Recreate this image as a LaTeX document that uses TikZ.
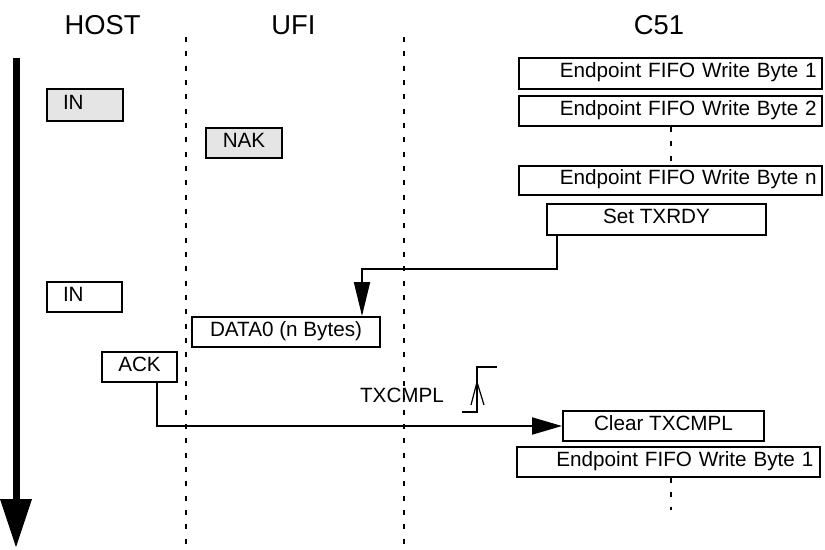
\documentclass[tikz,border=0pt]{standalone}
\usepackage{fontspec}
\setmainfont{Liberation Sans}
\usetikzlibrary{arrows.meta,calc}
\definecolor{boxgray}{RGB}{229,229,229}
\tikzset{
  lbl/.style={font=\fontsize{15.5}{18}\selectfont},
  hdr/.style={font=\fontsize{20.5}{24}\selectfont, anchor=base, inner sep=0},
  box/.style={draw, line width=1.5pt, inner ysep=0, minimum height=#1*0.75pt,
     text height=11pt, text depth=4.5pt, font=\fontsize{15.5}{18}\selectfont},
  grayfill/.style={fill=boxgray},
  lifeline/.style={line width=1.5pt, dash pattern=on 3.75pt off 7pt},
  conn/.style={line width=1.5pt},
}
\begin{document}
\begin{tikzpicture}[x=0.75pt, y=-0.75pt]
\useasboundingbox (0,0) rectangle (825,550);
% headers
\node[hdr] (host) at (102.5,34) {HOST};
\node[hdr] (ufi) at (293.5,34) {UFI};
\node[hdr] (c51) at (659,34) {C51};
% lifelines
\coordinate (l1a) at (185.5,37); \coordinate (l1b) at (185.5,550);
\coordinate (l2a) at (404,37); \coordinate (l2b) at (404,550);
\draw[lifeline] (l1a) -- (l1b);
\draw[lifeline] (l2a) -- (l2b);
% time arrow
\coordinate (ta) at (16,58); \coordinate (tb) at (16,548);
\draw[line width=5.25pt, -{Triangle[length=36.75pt,width=22.5pt]}] (ta) -- (tb);
% boxes
\node[box=32, grayfill, minimum width=76*0.75pt, text width=33pt, inner xsep=12pt, align=left] (in1) at (85,105) {IN};
\node[box=30, grayfill, minimum width=76*0.75pt] (nak) at (244,143) {NAK};
\node[box=31, minimum width=303*0.75pt, text width=219.25pt, inner xsep=4pt, align=right] (ep1) at (670.5,73.5) {Endpoint FIFO Write Byte 1};
\node[box=30, minimum width=303*0.75pt, text width=219.25pt, inner xsep=4pt, align=right] (ep2) at (670.5,111) {Endpoint FIFO Write Byte 2};
\node[box=29, minimum width=303*0.75pt, text width=219.25pt, inner xsep=4pt, align=right] (epn) at (670.5,180.5) {Endpoint FIFO Write Byte n};
\node[box=31, minimum width=219*0.75pt] (set) at (656.5,219.5) {Set TXRDY};
\node[box=30, minimum width=75*0.75pt, text width=32.25pt, inner xsep=12pt, align=left] (in2) at (84.5,297) {IN};
\node[box=30, minimum width=188*0.75pt] (data) at (286,332) {DATA0 (n Bytes)};
\node[box=30, minimum width=75*0.75pt] (ack) at (139.5,367) {ACK};
\node[box=30, minimum width=201*0.75pt] (clr) at (663.5,426) {Clear TXCMPL};
\node[box=30, minimum width=303*0.75pt, text width=217.25pt, inner xsep=5pt, align=right] (ep1b) at (668.5,462) {Endpoint FIFO Write Byte 1};
% short dotted continuations
\draw[lifeline] (ep2.south -| 671,0) -- (epn.north -| 671,0);
\coordinate (epend) at (671,510);
\draw[lifeline] (ep1b.south -| 671,0) -- (epend);
% TXCMPL label and rising edge
\node[lbl, inner sep=0] (txc) at (402,395) {TXCMPL};
\coordinate (e1) at (462,412); \coordinate (e2) at (477,412);
\coordinate (e3) at (477,367); \coordinate (e4) at (497,367);
\draw[line width=1.2pt] (e1) -- (e2) -- (e3) -- (e4);
\coordinate (m1) at (471,405); \coordinate (m2) at (477,382); \coordinate (m3) at (484,405);
\draw[line width=0.9pt] (m1) -- (m2) -- (m3);
% connectors
\draw[conn, -{Triangle[length=25.5pt,width=12pt]}]
  ($(set.south west)+(11,0)$) -- ++(0,33) -| ($(data.north)+(76,0)$);
\draw[conn, -{Triangle[length=22.5pt,width=12.75pt]}]
  ($(ack.south west)+(56,0)$) |- (clr.west);
\end{tikzpicture}
\end{document}
